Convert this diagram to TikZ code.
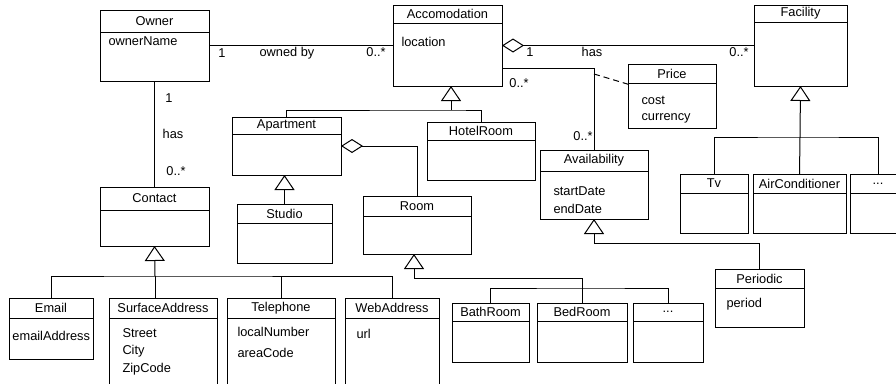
\documentclass[tikz,border=0pt]{standalone}
\usepackage{fontspec}
\setmainfont{Liberation Sans}
\usepackage{tikz}
\usetikzlibrary{arrows.meta}

\tikzset{
  classbox/.style={draw,rectangle,inner sep=0pt,outer sep=0pt},
  classname/.style={inner sep=0pt},
  attr/.style={anchor=west,inner sep=0pt},
  mult/.style={inner sep=0pt},
  inh/.style={-{Triangle[open,length=15pt,width=20pt]}},
  agg/.style={{Diamond[open,length=22pt,width=14pt]}-},
}

% #1 name, (#2,#3) top left, (#4,#5) bottom right, #6 y of header line, #7 title
\newcommand{\umlclass}[7]{%
  \node[classbox,minimum width={#4pt-#2pt},minimum height={#5pt-#3pt}] (#1) at ({(#2+#4)/2},{(#3+#5)/2}) {};
  \draw (#2,#6) -- (#4,#6);
  \node[classname] (#1-name) at ({(#2+#4)/2},{(#3+#6)/2}) {#7};}

\begin{document}
\begin{tikzpicture}[x=1pt,y=-1pt,line width=1pt,font=\fontsize{12.8}{15}\selectfont]
\useasboundingbox (0,0) rectangle (896,383);
\clip (0,0) rectangle (896,383);

\umlclass{owner}{100}{10}{209}{81}{32}{Owner}
\umlclass{accom}{393}{5}{502}{86}{23}{Accomodation}
\umlclass{facility}{754}{5}{847}{86}{22}{Facility}
\umlclass{price}{628}{64}{716}{128}{83}{Price}
\umlclass{apt}{232}{117}{341}{175}{134}{Apartment}
\umlclass{hotel}{427}{122}{535}{180}{140}{HotelRoom}
\umlclass{avail}{540}{150}{648}{219}{171}{Availability}
\umlclass{tv}{680}{174}{748}{233}{193}{Tv}
\umlclass{aircon}{753}{174}{846}{233}{193}{AirConditioner}
\umlclass{fdots}{850}{174}{906}{233}{193}{...}
\umlclass{contact}{100}{187}{209}{246}{210}{Contact}
\umlclass{studio}{237}{204}{332}{263}{223}{Studio}
\umlclass{room}{363}{196}{471}{254}{216}{Room}
\umlclass{periodic}{715}{269}{804}{327}{288}{Periodic}
\umlclass{email}{9}{298}{93}{359}{318}{Email}
\umlclass{surface}{109}{298}{217}{395}{318}{SurfaceAddress}
\umlclass{tele}{227}{298}{335}{395}{318}{Telephone}
\umlclass{web}{345}{298}{439}{395}{318}{WebAddress}
\umlclass{bath}{452}{303}{529}{362}{321}{BathRoom}
\umlclass{bed}{537}{303}{627}{362}{321}{BedRoom}
\umlclass{rdots}{633}{303}{703}{362}{321}{...}

% attributes
\path (108,41) node[attr] (owner-a1) {ownerName};
\path (401,42) node[attr] (accom-a1) {location};
\path (641,100) node[attr] (price-a1) {cost};
\path (641,118) node[attr] (price-a2) {currency};
\path (553,191) node[attr] (avail-a1) {startDate};
\path (553,209) node[attr] (avail-a2) {endDate};
\path (726,304) node[attr] (periodic-a1) {period};
\path (12,336) node[attr] (email-a1) {emailAddress};
\path (122,333) node[attr] (surface-a1) {Street};
\path (122,351) node[attr] (surface-a2) {City};
\path (122,369) node[attr] (surface-a3) {ZipCode};
\path (237,332) node[attr] (tele-a1) {localNumber};
\path (237,353) node[attr] (tele-a2) {areaCode};
\path (356,334) node[attr] (web-a1) {url};

% associations
\draw (owner.east) -- (accom.west);
\path (222,53) node[mult] (m1) {1};
\path (287,53) node[mult] (ownedby) {owned by};
\path (376,52) node[mult] (m2) {0..*};

\draw[agg] (accom.east) -- (facility.west);
\path (530,52) node[mult] (m3) {1};
\path (592,52) node[mult] (hasf) {has};
\path (739,52) node[mult] (m4) {0..*};

\coordinate (abend) at (594,68);
\draw (accom.east |- abend) -- (abend) -- (avail.north);
\path (519,83) node[mult] (m5) {0..*};
\path (583,136) node[mult] (m6) {0..*};
\coordinate (assoc) at (594,74);
\draw[dash pattern=on 6pt off 4pt] (assoc) -- (price.165);

\draw (owner.south) -- (contact.north);
\path (169,98) node[mult] (m7) {1};
\path (173,134) node[mult] (hasc) {has};
\path (176,171) node[mult] (m8) {0..*};

\draw[agg] (apt.east) -| (room.north);

% generalizations
\coordinate (abus) at (451,110);
\draw[inh] (abus) -- (abus |- accom.south);
\draw (apt.north) |- (abus) -| (hotel.north);

\draw[inh] (studio.north) -- (studio.north |- apt.south);

\coordinate (cbus) at (155,276);
\draw[inh] (cbus) -- (contact.south);
\draw (email.north) |- (cbus) -| (web.north);
\draw (cbus) -- (cbus |- surface.north);
\draw (tele.north) -- (tele.north |- cbus);

\coordinate (rbus) at (414,278);
\coordinate (rbus2) at (582,288);
\draw[inh] (rbus) -- (rbus |- room.south);
\draw (rbus) -| (bed.north);
\draw (bath.north) |- (rbus2) -| (rdots.north);

\coordinate (pbus) at (594,243);
\draw[inh] (periodic.north) |- (pbus) -- (avail.south);

\coordinate (fbus) at (800,137);
\draw[inh] (fbus) -- (facility.south);
\draw (tv.north) |- (fbus) -| (fdots.north);
\draw (fbus) -- (aircon.north);
\end{tikzpicture}
\end{document}
